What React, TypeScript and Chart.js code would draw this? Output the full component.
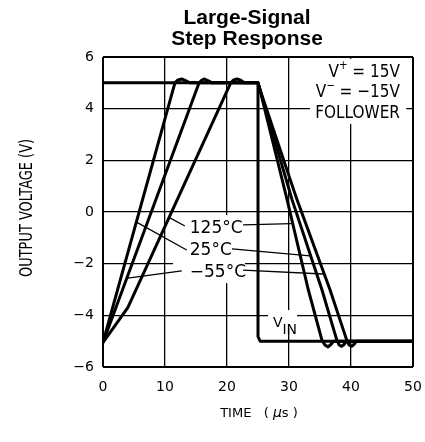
import React, { useEffect, useRef } from "react";
import { Chart, registerables } from "chart.js";

Chart.register(...registerables);

// ---- axes ----
const xTicks = [0, 10, 20, 30, 40, 50];
const yTicks = [-6, -4, -2, 0, 2, 4, 6];

// ---- input step (V_IN) ----
const vinTime = [0, 25, 25, 25.35, 50];
const vinVolt = [5, 5, -4.82, -5, -5];

// ---- output at 125°C ----
const t125Time = [0, 0.3, 4, 20.6, 21.0, 21.6, 22.2, 22.8, 25, 25.3, 29.7, 33.1, 35.3, 35.8, 36.3, 36.8, 37.2, 50];
const t125Volt = [-5.05, -4.95, -3.7, 5, 5.1, 5.15, 5.1, 5, 5, 4.75, 0.47, -3, -4.95, -5.15, -5.22, -5.12, -5, -5];

// ---- output at 25°C ----
const t25Time = [0, 11.6, 12.0, 12.7, 13.4, 14.0, 25, 25.3, 30.5, 35.3, 37.7, 38.1, 38.5, 38.9, 39.3, 50];
const t25Volt = [-5.05, 5, 5.1, 5.15, 5.08, 5, 5, 4.75, 0.47, -3, -4.95, -5.15, -5.2, -5.12, -5, -5];

// ---- output at -55°C ----
const tm55Time = [0, 15.5, 15.9, 16.3, 17.0, 17.6, 25, 25.3, 31.3, 36.6, 39.3, 39.7, 40.1, 40.5, 40.9, 50];
const tm55Volt = [-5.05, 5, 5.1, 5.15, 5.08, 5, 5, 4.75, 0.47, -3, -4.95, -5.15, -5.2, -5.12, -5, -5];

// ---- temperature annotations (data coordinates) ----
const tempLabels = ["125°C", "25°C", "\u221255°C"];
const tempLabelT = [14.0, 14.0, 14.0];
const tempLabelV = [-0.81, -1.66, -2.52];
const leadLeftFromT = [13.2, 13.5, 12.7];
const leadLeftFromV = [-0.54, -1.47, -2.28];
const leadLeftToT = [10.8, 5.4, 4.0];
const leadLeftToV = [-0.23, -0.39, -2.56];
const leadRightFromT = [22.6, 20.8, 22.6];
const leadRightFromV = [-0.5, -1.43, -2.25];
const leadRightToT = [30.4, 33.4, 35.5];
const leadRightToV = [-0.45, -1.7, -2.4];

// white boxes behind labels [t0, t1, v0, v1]
const boxT0 = [11.3, 33.4, 26.6];
const boxT1 = [22.9, 48.9, 31.3];
const boxV0 = [-0.12, 5.93, -3.8];
const boxV1 = [-2.75, 3.41, -4.5];

const condLines = ["= 15V", "= \u221215V", "FOLLOWER"];
const condSup = ["+", "\u2212", ""];
const condV = [5.23, 4.45, 3.64];
const condRightT = 47.9;

const vinLabelT = 27.4;
const vinLabelV = -4.45;

const FONT = "'DejaVu Sans', sans-serif";

type Run = { text: string; size: number; dy?: number; weight?: string; style?: string; family?: string };

function drawRuns(ctx: CanvasRenderingContext2D, runs: Run[], x: number, y: number, align: string, sx = 1) {
  const widths: number[] = [];
  let total = 0;
  for (const r of runs) {
    ctx.font = `${r.style || "normal"} ${r.weight || "normal"} ${r.size}px ${r.family || FONT}`;
    const w = ctx.measureText(r.text).width;
    widths.push(w);
    total += w;
  }
  const start = align === "right" ? x - total * sx : align === "center" ? x - (total * sx) / 2 : x;
  ctx.save();
  ctx.translate(start, y);
  ctx.scale(sx, 1);
  ctx.textAlign = "left";
  ctx.textBaseline = "alphabetic";
  let cx = 0;
  runs.forEach((r, i) => {
    ctx.font = `${r.style || "normal"} ${r.weight || "normal"} ${r.size}px ${r.family || FONT}`;
    ctx.fillText(r.text, cx, r.dy || 0);
    cx += widths[i];
  });
  ctx.restore();
}

const annotPlugin = {
  id: "annot",
  beforeDatasetsDraw(chart: any) {
    const { ctx, scales } = chart;
    const px = (t: number) => scales.x.getPixelForValue(t);
    const py = (v: number) => scales.y.getPixelForValue(v);
    ctx.save();
    ctx.fillStyle = "#fff";
    for (let i = 0; i < boxT0.length; i++) {
      const x0 = px(boxT0[i]), x1 = px(boxT1[i]);
      const y0 = py(boxV0[i]), y1 = py(boxV1[i]);
      ctx.fillRect(x0, y0, x1 - x0, y1 - y0);
    }
    ctx.strokeStyle = "#000";
    ctx.lineWidth = 1.3;
    for (let i = 0; i < tempLabels.length; i++) {
      ctx.beginPath();
      ctx.moveTo(px(leadLeftFromT[i]), py(leadLeftFromV[i]));
      ctx.lineTo(px(leadLeftToT[i]), py(leadLeftToV[i]));
      ctx.moveTo(px(leadRightFromT[i]), py(leadRightFromV[i]));
      ctx.lineTo(px(leadRightToT[i]), py(leadRightToV[i]));
      ctx.stroke();
    }
    ctx.fillStyle = "#000";
    for (let i = 0; i < tempLabels.length; i++) {
      drawRuns(ctx, [{ text: tempLabels[i], size: 17 }], px(tempLabelT[i]), py(tempLabelV[i]), "left");
    }
    // test conditions
    for (let i = 0; i < condLines.length; i++) {
      const runs: Run[] = condSup[i]
        ? [
            { text: "V", size: 18 },
            { text: condSup[i], size: 12, dy: -8 },
            { text: " " + condLines[i], size: 18 },
          ]
        : [{ text: condLines[i], size: 18 }];
      drawRuns(ctx, runs, px(condRightT), py(condV[i]), "right", 0.85);
    }
    // V_IN label
    drawRuns(
      ctx,
      [
        { text: "V", size: 14 },
        { text: "IN", size: 14, dy: 7 },
      ],
      px(vinLabelT),
      py(vinLabelV),
      "left"
    );
    ctx.restore();
  },
  afterDraw(chart: any) {
    const { ctx, chartArea } = chart;
    ctx.save();
    ctx.fillStyle = "#000";
    const cx = (chartArea.left + chartArea.right) / 2;
    const left = chartArea.left;
    const top = chartArea.top;
    drawRuns(ctx, [{ text: "Large-Signal", size: 20, weight: "bold", family: "'Liberation Sans', Arial, sans-serif" }], cx - 11, top - 33, "center", 1.05);
    drawRuns(ctx, [{ text: "Step Response", size: 20, weight: "bold", family: "'Liberation Sans', Arial, sans-serif" }], cx - 11, top - 12.5, "center", 1.05);
    // x title
    drawRuns(
      ctx,
      [
        { text: "TIME   ( ", size: 13 },
        { text: "\u03bc", size: 14, style: "italic" },
        { text: "s )", size: 13 },
      ],
      cx + 1,
      chartArea.bottom + 49.5,
      "center"
    );
    // y title
    ctx.save();
    ctx.translate(left - 70.7, top + 220);
    ctx.rotate(-Math.PI / 2);
    drawRuns(ctx, [{ text: "OUTPUT VOLTAGE (V)", size: 18 }], 0, 0, "left", 0.72);
    ctx.restore();
    ctx.restore();
  },
};

export default function App() {
  const ref = useRef<HTMLCanvasElement>(null);
  useEffect(() => {
    const prevMargin = document.body.style.margin;
    document.body.style.margin = "0";
    const canvas = ref.current!;
    const pts = (ts: number[], vs: number[]) => ts.map((t, i) => ({ x: t, y: vs[i] }));
    const ds = (label: string, ts: number[], vs: number[]) => ({
      label,
      data: pts(ts, vs),
      borderColor: "#000",
      backgroundColor: "#000",
      borderWidth: 3,
      pointRadius: 0,
      tension: 0,
      fill: false,
      borderJoinStyle: "round" as const,
      borderCapStyle: "round" as const,
    });
    const gridWidth = (lastIdx: number) => (c: any) => (c.index === 0 || c.index === lastIdx ? 2 : 1.3);
    const chart = new Chart(canvas, {
      type: "line",
      data: {
        datasets: [
          ds("VIN", vinTime, vinVolt),
          ds("125°C", t125Time, t125Volt),
          ds("25°C", t25Time, t25Volt),
          ds("-55°C", tm55Time, tm55Volt),
        ],
      },
      options: {
        animation: false,
        responsive: false,
        maintainAspectRatio: false,
        devicePixelRatio: 1,
        layout: { padding: { top: 57, right: 12, bottom: 0, left: 0 } },
        plugins: { legend: { display: false }, tooltip: { enabled: false }, title: { display: false } },
        scales: {
          x: {
            type: "linear",
            min: 0,
            max: 50,
            afterBuildTicks: (s: any) => {
              s.ticks = xTicks.map((v) => ({ value: v }));
            },
            afterFit: (s: any) => {
              s.height = 75;
              s.paddingLeft = 0;
              s.paddingRight = 0;
              s.paddingTop = 0;
              s.paddingBottom = 0;
            },
            grid: { color: "#000", lineWidth: gridWidth(xTicks.length - 1), drawTicks: false },
            border: { display: false },
            ticks: {
              color: "#000",
              font: { family: "DejaVu Sans", size: 14 },
              padding: 12,
              maxRotation: 0,
              autoSkip: false,
            },
          },
          y: {
            type: "linear",
            min: -6,
            max: 6,
            afterBuildTicks: (s: any) => {
              s.ticks = yTicks.map((v) => ({ value: v }));
            },
            afterFit: (s: any) => {
              s.width = 103;
              s.paddingLeft = 0;
              s.paddingRight = 0;
              s.paddingTop = 0;
              s.paddingBottom = 0;
            },
            grid: { color: "#000", lineWidth: gridWidth(yTicks.length - 1), drawTicks: false },
            border: { display: false },
            ticks: {
              color: "#000",
              font: { family: "DejaVu Sans", size: 14 },
              padding: 9,
              callback: (v: any) => (Number(v) < 0 ? "\u2212" + Math.abs(Number(v)) : String(v)),
            },
          },
        },
      },
      plugins: [annotPlugin],
    });
    return () => {
      chart.destroy();
      document.body.style.margin = prevMargin;
    };
  }, []);
  return (
    <div style={{ width: 425, height: 442 }}>
      <canvas ref={ref} width={425} height={442} style={{ display: "block", width: 425, height: 442 }} />
    </div>
  );
}
